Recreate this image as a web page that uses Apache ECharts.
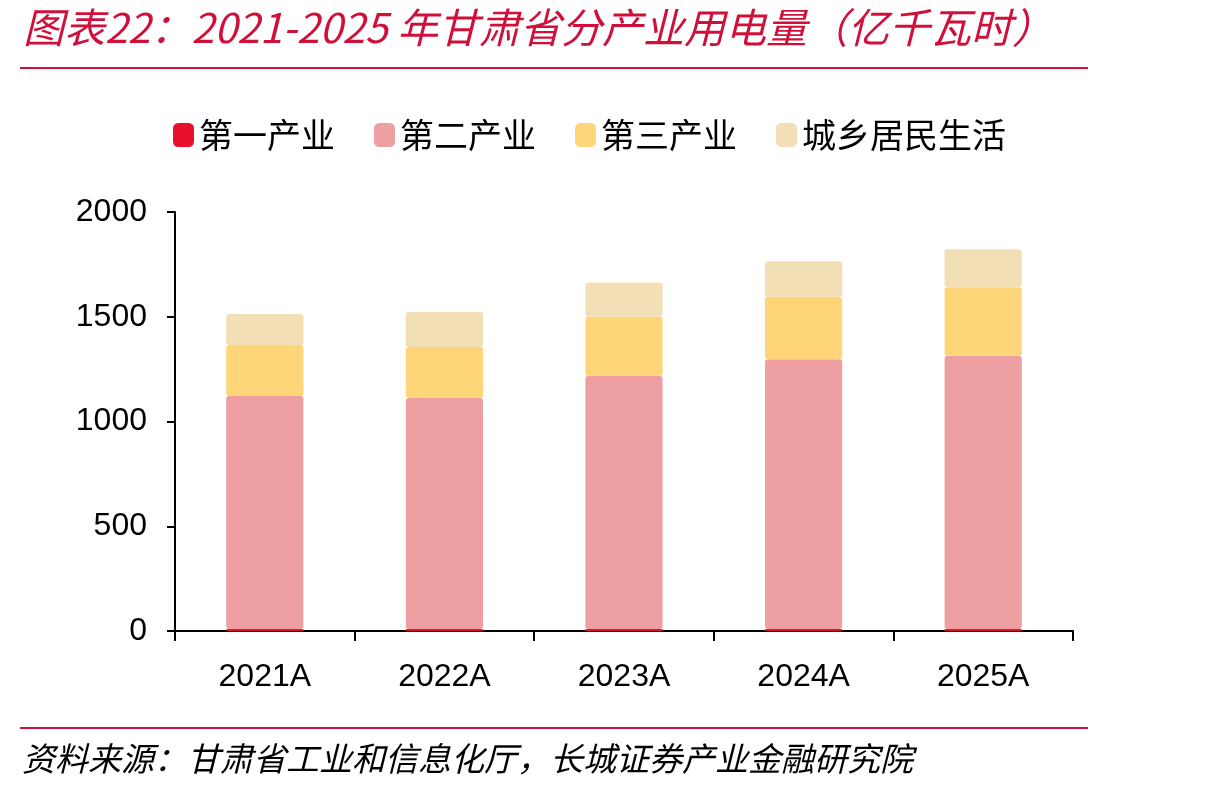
<!DOCTYPE html>
<html>
<head>
<meta charset="utf-8">
<script src="https://cdn.jsdelivr.net/npm/echarts@6/dist/echarts.min.js"></script>
<style>
  html, body { margin: 0; padding: 0; background: #fff; }
  #main { width: 1210px; height: 793px; }
</style>
</head>
<body>
<div id="main"></div>
<script>
// 数据（亿千瓦时）
const years = ['2021A', '2022A', '2023A', '2024A', '2025A']
const primary = [10, 10, 10, 10, 10]
const secondary = [1112, 1102, 1207, 1287, 1304]
const tertiary = [243, 244, 283, 299, 327]
const residential = [148, 167, 164, 169, 181]
const yTicks = [0, 500, 1000, 1500, 2000]

const cjk = '"Noto Sans CJK SC", "Noto Sans", sans-serif'
const latin = '"Liberation Sans", Arial, sans-serif'
const red = '#d0103a'

const myChart = echarts.init(document.getElementById('main'))

const bar = (name, data, color) => ({
  name: name,
  type: 'bar',
  stack: 'total',
  barWidth: '43%',
  data: data,
  itemStyle: { color: color, borderRadius: 3 }
})

myChart.setOption({
  animation: false,
  title: {
    text: '图表22：2021-2025 年甘肃省分产业用电量（亿千瓦时）',
    left: 18,
    top: 2,
    textStyle: { color: red, fontSize: 41, fontStyle: 'italic', fontWeight: 'normal', fontFamily: cjk }
  },
  legend: {
    top: 113,
    left: 168,
    itemWidth: 21,
    itemHeight: 24,
    itemGap: 39,
    icon: 'roundRect',
    textStyle: { fontSize: 34, color: '#000', fontFamily: cjk },
    data: ['第一产业', '第二产业', '第三产业', '城乡居民生活']
  },
  grid: { left: 175, right: 137, top: 212, bottom: 162 },
  xAxis: {
    type: 'category',
    data: years,
    axisLine: { lineStyle: { color: '#000', width: 2 } },
    axisTick: { show: true, length: 10, lineStyle: { color: '#000', width: 2 } },
    axisLabel: { fontSize: 32, color: '#000', margin: 30, fontFamily: latin }
  },
  yAxis: {
    type: 'value',
    min: yTicks[0],
    max: yTicks[yTicks.length - 1],
    interval: 500,
    axisLine: { show: true, lineStyle: { color: '#000', width: 2 } },
    axisTick: { show: true, length: 8, lineStyle: { color: '#000', width: 2 } },
    splitLine: { show: false },
    axisLabel: { fontSize: 32, color: '#000', margin: 28, fontFamily: latin, formatter: v => String(v) }
  },
  graphic: [
    { type: 'rect', shape: { x: 20, y: 67, width: 1068, height: 2 }, style: { fill: red } },
    { type: 'rect', shape: { x: 20, y: 727, width: 1068, height: 2 }, style: { fill: red } },
    {
      type: 'text', left: 22, top: 742,
      style: { text: '资料来源：甘肃省工业和信息化厅，长城证券产业金融研究院', fill: '#000', font: 'italic 33px ' + cjk }
    }
  ],
  series: [
    bar('第一产业', primary, '#e8112d'),
    bar('第二产业', secondary, '#ee9fa2'),
    bar('第三产业', tertiary, '#fed679'),
    bar('城乡居民生活', residential, '#f3dfb6')
  ]
})
</script>
</body>
</html>
